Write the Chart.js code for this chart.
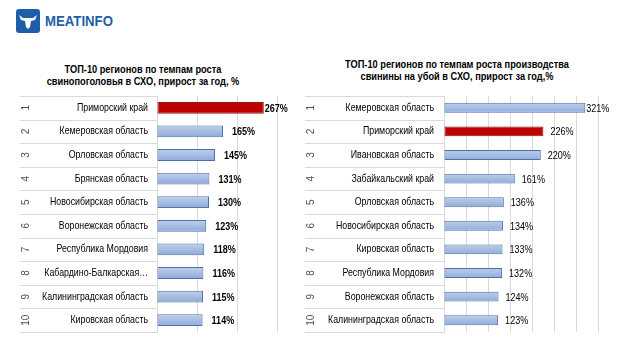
<!DOCTYPE html>
<html lang="ru">
<head>
    <meta charset="utf-8">
    <title>ТОП-10 регионов</title>
    <script src="https://cdn.jsdelivr.net/npm/chart.js"></script>
    <style>
        body { margin: 0; background: #fff; width: 623px; height: 350px; position: relative; overflow: hidden; font-family: "Liberation Sans", Arial, sans-serif; }
        canvas { position: absolute; }
        .logo { position: absolute; left: 16px; top: 9px; width: 24px; height: 24px; background: #1f5ea8; border-radius: 3px; }
        .logo svg { position: absolute; left: 3px; top: 5px; }
        .brand { position: absolute; left: 45px; top: 12px; font-weight: bold; font-size: 15px; color: #1f5ea8; transform: scaleX(0.88); transform-origin: left center; }
        .title { position: absolute; width: 320px; text-align: center; font-weight: bold; font-size: 11px; line-height: 12px; color: #000; transform: scaleX(0.84); }
    </style>
</head>
<body>
<div class="logo">
    <svg width="18" height="15" viewBox="0 0 18 15">
        <path d="M0 1 L4 4 L14 4 L18 1 L16 6 L12 7 L11 13 L9 15 L7 13 L6 7 L2 6 Z" fill="#fff"/>
    </svg>
</div>
<div class="brand">MEATINFO</div>

<div class="title" style="left:-17px; top:63px;">ТОП-10 регионов по темпам роста<br>свинопоголовья в СХО, прирост за год, %</div>
<div class="title" style="left:297px; top:58px;">ТОП-10 регионов по темпам роста производства<br>свинины на убой в СХО, прирост за год,%</div>

<canvas id="headsChart" width="298" height="260" style="left:-6px; top:90px;"></canvas>
<canvas id="slaughterChart" width="310" height="260" style="left:302px; top:90px;"></canvas>

<script>
    // левый график: прирост свинопоголовья
    const headsRegions = ['Приморский край', 'Кемеровская область', 'Орловская область', 'Брянская область',
        'Новосибирская область', 'Воронежская область', 'Республика Мордовия', 'Кабардино-Балкарская…',
        'Калининградская область', 'Кировская область']
    const headsValues = [267, 165, 145, 131, 130, 123, 118, 116, 115, 114]

    // правый график: производство свинины на убой
    const slaughterRegions = ['Кемеровская область', 'Приморский край', 'Ивановская область', 'Забайкальский край',
        'Орловская область', 'Новосибирская область', 'Кировская область', 'Республика Мордовия',
        'Воронежская область', 'Калининградская область']
    const slaughterValues = [321, 226, 220, 161, 136, 134, 133, 132, 124, 123]

    const highlightRegion = 'Приморский край'
    const baseFont = '"Liberation Sans", Arial, sans-serif'

    // нет узкого шрифта - сжимаем текст по горизонтали
    function narrowText(ctx, text, x, y, align, squeeze) {
        ctx.save()
        ctx.translate(x, y)
        ctx.scale(squeeze, 1)
        ctx.textAlign = align
        ctx.fillText(text, 0, 0)
        ctx.restore()
    }

    function barFill(context) {
        const chart = context.chart
        const label = chart.data.labels[context.dataIndex]
        if (label === highlightRegion) return '#c00000'
        const y = chart.scales.y
        const yc = y ? y.getPixelForValue(context.dataIndex) : NaN
        if (!isFinite(yc)) return '#a5bce2'
        const g = chart.ctx.createLinearGradient(0, yc - 6, 0, yc + 6)
        g.addColorStop(0, '#c0d0eb')
        g.addColorStop(1, '#8eaad9')
        return g
    }

    function barBorder(context) {
        const label = context.chart.data.labels[context.dataIndex]
        return label === highlightRegion ? '#8e1a1a' : '#4c71ab'
    }

    // таблица слева от графика: разделители строк, номера мест и названия регионов
    const tablePlugin = {
        id: 'regionTable',
        beforeDraw(chart, args, opts) {
            const ctx = chart.ctx
            const y = chart.scales.y
            const area = chart.chartArea
            const left = area.left - opts.width
            const labels = chart.data.labels
            const n = labels.length
            const step = (area.bottom - area.top) / n
            ctx.save()
            ctx.strokeStyle = '#d9d9d9'
            ctx.lineWidth = 1
            for (let i = 0; i <= n; i++) {
                const yy = Math.round(area.top + i * step) + 0.5
                ctx.beginPath()
                ctx.moveTo(left, yy)
                ctx.lineTo(area.left, yy)
                ctx.stroke()
            }
            ctx.textBaseline = 'middle'
            for (let i = 0; i < n; i++) {
                const yc = y.getPixelForValue(i)
                ctx.fillStyle = '#505050'
                ctx.font = '10px ' + baseFont
                ctx.save()
                ctx.translate(left + 6, yc)
                ctx.rotate(-Math.PI / 2)
                ctx.textAlign = 'center'
                ctx.fillText(String(i + 1), 0, 0)
                ctx.restore()

                ctx.fillStyle = '#000'
                ctx.font = '11px ' + baseFont
                narrowText(ctx, labels[i], area.left - opts.gap, yc, 'right', 0.8)
            }
            ctx.restore()
        }
    }

    const valueLabelPlugin = {
        id: 'valueLabels',
        afterDatasetsDraw(chart, args, opts) {
            const ctx = chart.ctx
            const meta = chart.getDatasetMeta(0)
            const values = chart.data.datasets[0].data
            const maxVal = Math.max(...values)
            ctx.save()
            ctx.fillStyle = '#000'
            ctx.font = opts.font
            ctx.textBaseline = 'middle'
            meta.data.forEach((bar, i) => {
                const off = values[i] === maxVal ? 1 : opts.offset
                narrowText(ctx, values[i] + '%', bar.x + off, bar.y + 1, 'left', 0.82)
            })
            ctx.restore()
        }
    }

    function makeChart(canvasId, regions, values, cfg) {
        return new Chart(document.getElementById(canvasId), {
            type: 'bar',
            data: {
                labels: regions,
                datasets: [{
                    data: values,
                    backgroundColor: barFill,
                    borderColor: barBorder,
                    borderWidth: 1,
                    borderSkipped: false,
                    barPercentage: cfg.barPct,
                    categoryPercentage: 1
                }]
            },
            options: {
                indexAxis: 'y',
                responsive: false,
                devicePixelRatio: 1,
                animation: false,
                layout: {padding: {left: 0, right: cfg.padRight, top: 6, bottom: 18}},
                plugins: {
                    legend: {display: false},
                    tooltip: {enabled: false},
                    regionTable: {width: cfg.tableWidth, gap: cfg.gap},
                    valueLabels: {font: cfg.labelFont, offset: cfg.labelOffset}
                },
                scales: {
                    x: {
                        min: 0,
                        max: cfg.max,
                        ticks: {display: false, stepSize: cfg.step},
                        grid: {color: '#d9d9d9', drawTicks: false},
                        border: {display: false}
                    },
                    y: {
                        ticks: {display: false},
                        grid: {display: false, drawTicks: false},
                        border: {display: true, color: '#d9d9d9'},
                        afterFit(scale) {
                            scale.width = cfg.axisWidth
                        }
                    }
                }
            },
            plugins: [tablePlugin, valueLabelPlugin]
        })
    }

    makeChart('headsChart', headsRegions, headsValues, {
        max: 300, step: 100,
        axisWidth: 163, tableWidth: 137, gap: 9, padRight: 15,
        barPct: 0.5,
        labelFont: 'bold 11px ' + baseFont, labelOffset: 9
    })

    makeChart('slaughterChart', slaughterRegions, slaughterValues, {
        max: 350, step: 50,
        axisWidth: 142, tableWidth: 139, gap: 10, padRight: 14,
        barPct: 0.42,
        labelFont: '11px ' + baseFont, labelOffset: 7
    })
</script>
</body>
</html>
